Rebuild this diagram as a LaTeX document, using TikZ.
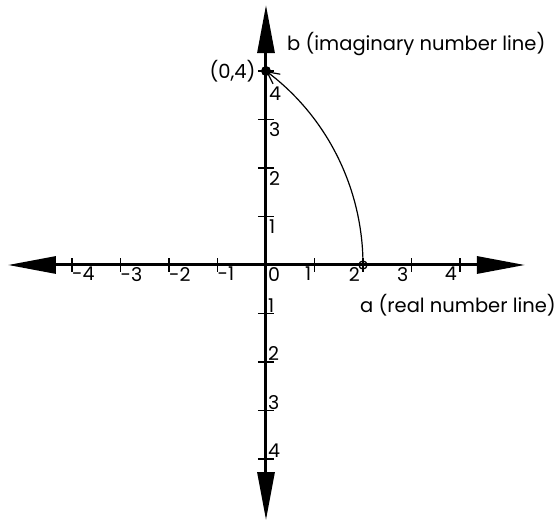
\documentclass[tikz,border=0pt]{standalone}
\usepackage{fontspec}
\setmainfont{Poppins}
\usetikzlibrary{arrows.meta}
\begin{document}
\begin{tikzpicture}[x=48.5pt,y=48.5pt,
  axis/.style={line width=3pt,-{Triangle[length=48pt,width=17pt]}},
  tickmark/.style={line width=1.5pt},
  num/.style={inner sep=0pt,font=\fontsize{19}{19}\selectfont},
  lbl/.style={inner sep=0pt,font=\fontsize{19.5}{22}\selectfont},
  arcline/.style={line width=1.2pt,-{Straight Barb[length=12pt,width=12pt,line width=1.2pt]}}]
\useasboundingbox (-266pt,-256pt) rectangle (289pt,265pt);
\coordinate (O) at (0,0);
\coordinate (xl) at (-5.32,0);
\coordinate (xr) at (5.34,0);
\coordinate (yt) at (0,5.36);
\coordinate (yb) at (0,-5.26);
\draw[axis] (O) -- (xl);
\draw[axis] (O) -- (xr);
\draw[axis] (O) -- (yt);
\draw[axis] (O) -- (yb);
% ticks on the real axis
\foreach \i in {-4,...,-1}{
  \draw[tickmark] (\i,-7pt) -- (\i,7pt);
  \node[num,anchor=north west] (hx\i) at ([yshift=-2pt]\i,0) {\i};
}
\foreach \i in {1,...,4}{
  \draw[tickmark] (\i,-7pt) -- (\i,7pt);
  \node[num,anchor=north east] (hx\i) at ([xshift=-3pt,yshift=-2pt]\i,0) {\i};
}
\node[num,anchor=north west] (h0) at ([xshift=2pt,yshift=-2pt]O) {0};
% ticks on the imaginary axis
\foreach \j in {1,...,4}{
  \draw[tickmark] (-8pt,\j) -- (8pt,\j);
  \draw[tickmark] (-8pt,-\j) -- (8pt,-\j);
  \node[num,anchor=south west] (vn\j) at ([xshift=2pt,yshift=1pt]0,-\j) {\j};
}
\foreach \j in {1,...,3}{
  \node[num,anchor=north west] (vp\j) at ([xshift=3pt,yshift=-3pt]0,\j) {\j};
}
\node[num,anchor=north west] (vp4) at ([xshift=3pt,yshift=-16pt]0,4) {4};
% points
\node[circle,fill=black,inner sep=0pt,minimum size=10pt] (dot) at (0,4) {};
\node[circle,draw,line width=1.3pt,inner sep=0pt,minimum size=8pt] (pt2) at (2,0) {};
\draw[arcline] (pt2.center) arc[start angle=0,end angle=53.13,radius=5];
% labels
\node[lbl,anchor=east] (p04) at ([xshift=-5pt]dot.west) {(0,4)};
\node[lbl,anchor=west] (blabel) at (21pt,221pt) {b (imaginary number line)};
\node[lbl,anchor=west] (alabel) at (94pt,-40pt) {a (real number line)};
\end{tikzpicture}
\end{document}
